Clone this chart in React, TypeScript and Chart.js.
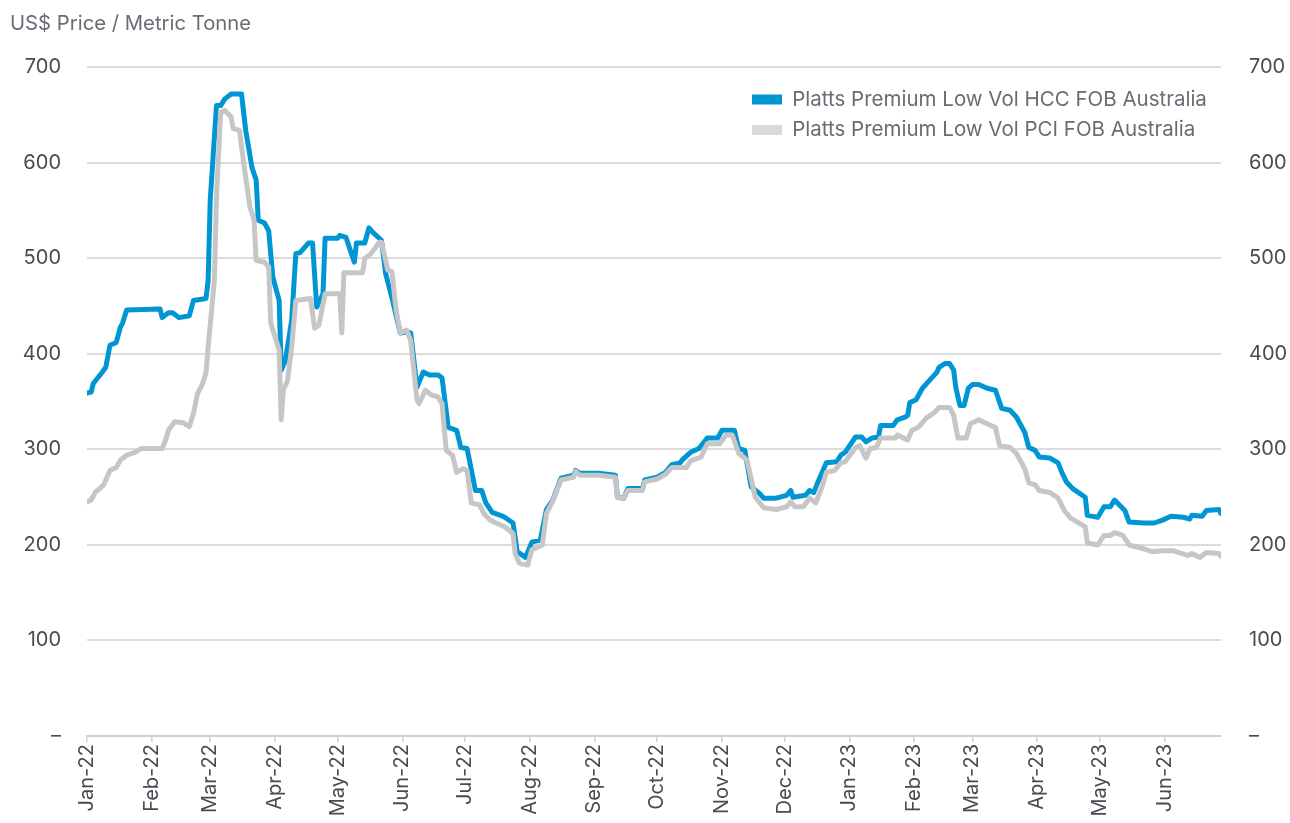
import React, { useEffect, useRef } from "react";
import { Chart, registerables } from "chart.js";

Chart.register(...registerables);

const titleText = "US$ Price / Metric Tonne";
const hccLabel = "Platts Premium Low Vol HCC FOB Australia";
const pciLabel = "Platts Premium Low Vol PCI FOB Australia";

const monthTicks = [
  "2022-01-01", "2022-02-01", "2022-03-01", "2022-04-01", "2022-05-01", "2022-06-01",
  "2022-07-01", "2022-08-01", "2022-09-01", "2022-10-01", "2022-11-01", "2022-12-01",
  "2023-01-01", "2023-02-01", "2023-03-01", "2023-04-01", "2023-05-01", "2023-06-01",
];
const monthLabels = [
  "Jan-22", "Feb-22", "Mar-22", "Apr-22", "May-22", "Jun-22",
  "Jul-22", "Aug-22", "Sep-22", "Oct-22", "Nov-22", "Dec-22",
  "Jan-23", "Feb-23", "Mar-23", "Apr-23", "May-23", "Jun-23",
];

const hccDates = [
  "2022-01-01", "2022-01-03", "2022-01-04", "2022-01-08", "2022-01-10", "2022-01-12", "2022-01-15", "2022-01-17", "2022-01-18", "2022-01-20",
  "2022-02-05", "2022-02-06", "2022-02-09", "2022-02-11", "2022-02-14", "2022-02-19", "2022-02-21", "2022-02-27", "2022-02-28",
  "2022-03-01", "2022-03-04", "2022-03-06", "2022-03-08", "2022-03-11", "2022-03-16", "2022-03-18", "2022-03-21", "2022-03-23", "2022-03-24", "2022-03-27", "2022-03-29", "2022-03-31",
  "2022-04-03", "2022-04-04", "2022-04-06", "2022-04-09", "2022-04-11", "2022-04-13", "2022-04-17", "2022-04-19", "2022-04-21", "2022-04-24", "2022-04-25",
  "2022-05-01", "2022-05-02", "2022-05-05", "2022-05-09", "2022-05-10", "2022-05-14", "2022-05-16", "2022-05-18", "2022-05-22", "2022-05-24", "2022-05-27", "2022-05-31",
  "2022-06-03", "2022-06-05", "2022-06-08", "2022-06-11", "2022-06-14", "2022-06-18", "2022-06-20", "2022-06-23", "2022-06-27", "2022-06-29",
  "2022-07-02", "2022-07-06", "2022-07-09", "2022-07-11", "2022-07-14", "2022-07-18", "2022-07-20", "2022-07-24", "2022-07-26", "2022-07-30",
  "2022-08-02", "2022-08-06", "2022-08-09", "2022-08-12", "2022-08-16", "2022-08-22", "2022-08-23", "2022-08-25",
  "2022-09-03", "2022-09-11", "2022-09-12", "2022-09-15", "2022-09-17", "2022-09-24", "2022-09-25",
  "2022-10-01", "2022-10-05", "2022-10-08", "2022-10-12", "2022-10-13", "2022-10-17", "2022-10-21", "2022-10-25", "2022-10-30",
  "2022-11-01", "2022-11-07", "2022-11-09", "2022-11-12", "2022-11-15", "2022-11-19", "2022-11-21", "2022-11-27",
  "2022-12-02", "2022-12-04", "2022-12-05", "2022-12-11", "2022-12-13", "2022-12-15", "2022-12-17", "2022-12-21", "2022-12-26", "2022-12-28", "2022-12-30",
  "2023-01-04", "2023-01-07", "2023-01-09", "2023-01-12", "2023-01-15", "2023-01-16", "2023-01-22", "2023-01-24", "2023-01-28", "2023-01-29", "2023-01-30",
  "2023-02-02", "2023-02-05", "2023-02-07", "2023-02-12", "2023-02-13", "2023-02-16", "2023-02-18", "2023-02-20", "2023-02-21", "2023-02-23", "2023-02-25", "2023-02-27",
  "2023-03-01", "2023-03-04", "2023-03-08", "2023-03-12", "2023-03-15", "2023-03-19", "2023-03-22", "2023-03-26", "2023-03-28", "2023-03-31",
  "2023-04-02", "2023-04-07", "2023-04-11", "2023-04-13", "2023-04-15", "2023-04-18", "2023-04-24", "2023-04-25", "2023-04-30",
  "2023-05-03", "2023-05-06", "2023-05-08", "2023-05-13", "2023-05-15", "2023-05-22", "2023-05-27", "2023-05-31",
  "2023-06-04", "2023-06-10", "2023-06-13", "2023-06-14", "2023-06-19", "2023-06-21", "2023-06-27", "2023-06-28",
];
const hccPrices = [
  359, 360, 369, 380, 386, 409, 412, 428, 432, 446,
  447, 438, 443, 443, 438, 440, 456, 458, 477,
  561, 660, 660, 667, 672, 672, 634, 595, 582, 540, 537, 529, 480,
  456, 383, 393, 435, 505, 506, 516, 516, 449, 463, 521,
  521, 524, 522, 496, 516, 516, 532, 527, 519, 484, 459, 422,
  423, 422, 365, 381, 378, 378, 375, 323, 320, 302,
  301, 257, 257, 244, 234, 231, 229, 223, 193, 187,
  203, 205, 237, 247, 270, 273, 278, 275,
  275, 273, 250, 249, 259, 259, 268,
  271, 276, 284, 286, 289, 297, 301, 312, 312,
  320, 320, 301, 299, 261, 254, 249, 249,
  252, 257, 250, 252, 257, 255, 266, 286, 287, 294, 297,
  313, 313, 308, 312, 313, 325, 325, 331, 334, 336, 349,
  352, 364, 369, 381, 386, 390, 390, 383, 365, 346, 346, 364,
  368, 368, 364, 362, 343, 341, 334, 318, 302, 299,
  292, 291, 286, 275, 266, 259, 250, 231, 229,
  240, 240, 247, 236, 224, 223, 223, 226,
  230, 229, 227, 231, 230, 236, 237, 233,
];

const pciDates = [
  "2022-01-01", "2022-01-03", "2022-01-05", "2022-01-09", "2022-01-12", "2022-01-15", "2022-01-17", "2022-01-20", "2022-01-24", "2022-01-27",
  "2022-02-06", "2022-02-08", "2022-02-09", "2022-02-12", "2022-02-16", "2022-02-19", "2022-02-21", "2022-02-23", "2022-02-25", "2022-02-27", "2022-02-28",
  "2022-03-03", "2022-03-04", "2022-03-06", "2022-03-08", "2022-03-11", "2022-03-12", "2022-03-15", "2022-03-17", "2022-03-20", "2022-03-22", "2022-03-23", "2022-03-27", "2022-03-29", "2022-03-30",
  "2022-04-01", "2022-04-03", "2022-04-04", "2022-04-05", "2022-04-07", "2022-04-09", "2022-04-11", "2022-04-18", "2022-04-20", "2022-04-22", "2022-04-25",
  "2022-05-02", "2022-05-03", "2022-05-04", "2022-05-13", "2022-05-14", "2022-05-17", "2022-05-21", "2022-05-22", "2022-05-25", "2022-05-27", "2022-05-29", "2022-05-31",
  "2022-06-03", "2022-06-05", "2022-06-08", "2022-06-09", "2022-06-12", "2022-06-15", "2022-06-18", "2022-06-20", "2022-06-22", "2022-06-25", "2022-06-27", "2022-06-30",
  "2022-07-02", "2022-07-04", "2022-07-08", "2022-07-10", "2022-07-13", "2022-07-18", "2022-07-20", "2022-07-24", "2022-07-25", "2022-07-27", "2022-07-31",
  "2022-08-02", "2022-08-07", "2022-08-09", "2022-08-12", "2022-08-16", "2022-08-22", "2022-08-23", "2022-08-25",
  "2022-09-03", "2022-09-11", "2022-09-12", "2022-09-15", "2022-09-17", "2022-09-24", "2022-09-25",
  "2022-10-01", "2022-10-05", "2022-10-08", "2022-10-15", "2022-10-17", "2022-10-22", "2022-10-25", "2022-10-31",
  "2022-11-03", "2022-11-06", "2022-11-09", "2022-11-13", "2022-11-17", "2022-11-21", "2022-11-27",
  "2022-12-02", "2022-12-04", "2022-12-06", "2022-12-10", "2022-12-13", "2022-12-16", "2022-12-19", "2022-12-21", "2022-12-25", "2022-12-28", "2022-12-30",
  "2023-01-04", "2023-01-06", "2023-01-09", "2023-01-11", "2023-01-14", "2023-01-16", "2023-01-23", "2023-01-24", "2023-01-29", "2023-01-31",
  "2023-02-03", "2023-02-07", "2023-02-11", "2023-02-13", "2023-02-18", "2023-02-20", "2023-02-22", "2023-02-26", "2023-02-28",
  "2023-03-04", "2023-03-08", "2023-03-12", "2023-03-14", "2023-03-19", "2023-03-22", "2023-03-26", "2023-03-28", "2023-03-31",
  "2023-04-02", "2023-04-07", "2023-04-11", "2023-04-14", "2023-04-17", "2023-04-24", "2023-04-25", "2023-04-30",
  "2023-05-03", "2023-05-06", "2023-05-08", "2023-05-12", "2023-05-15", "2023-05-22", "2023-05-26", "2023-05-31",
  "2023-06-05", "2023-06-12", "2023-06-14", "2023-06-18", "2023-06-21", "2023-06-27", "2023-06-28",
];
const pciPrices = [
  245, 247, 255, 263, 278, 281, 289, 294, 297, 301,
  301, 312, 320, 329, 328, 324, 338, 359, 367, 380, 407,
  477, 564, 653, 655, 648, 636, 634, 600, 554, 540, 498, 496, 491, 432,
  418, 404, 331, 362, 372, 407, 456, 458, 427, 430, 463,
  463, 422, 485, 485, 500, 505, 517, 517, 488, 486, 446, 422,
  425, 414, 352, 348, 362, 357, 355, 348, 299, 294, 276, 280,
  278, 244, 242, 233, 226, 221, 219, 212, 191, 181, 179,
  195, 200, 233, 246, 268, 271, 277, 273,
  273, 271, 250, 249, 257, 257, 266,
  269, 274, 281, 281, 288, 292, 306, 306,
  315, 315, 296, 289, 250, 239, 237,
  240, 245, 240, 240, 249, 244, 261, 276, 278, 286, 287,
  302, 304, 291, 301, 302, 312, 312, 315, 310, 320,
  323, 333, 339, 344, 344, 336, 312, 312, 327,
  331, 327, 323, 304, 302, 296, 280, 265, 263,
  257, 255, 249, 236, 228, 219, 202, 200,
  210, 210, 213, 210, 200, 196, 193, 194,
  194, 189, 191, 187, 192, 191, 188,
];

const START = Date.parse("2022-01-01");
const DAY_MS = 86400000;
const dayOf = (s: string) => (Date.parse(s) - START) / DAY_MS;

const FONT = "Inter, 'Open Sans', sans-serif";

const legendPlacer = {
  id: "legendPlacer",
  afterLayout(chart: any) {
    const lg = chart.legend;
    const ca = chart.chartArea;
    if (!lg || !ca) return;
    lg.left = ca.left + 655;
    lg.top = ca.top + 12;
  },
};

export default function App() {
  const ref = useRef<HTMLCanvasElement | null>(null);

  useEffect(() => {
    if (!ref.current) return;
    const hccData = hccDates.map((d, i) => ({ x: dayOf(d), y: hccPrices[i] }));
    const pciData = pciDates.map((d, i) => ({ x: dayOf(d), y: pciPrices[i] }));
    const tickDays = monthTicks.map(dayOf);
    const xMax = dayOf(hccDates[hccDates.length - 1]);

    const yTickCommon = {
      color: "#4a4a52",
      font: { family: FONT, size: 20 },
      stepSize: 100,
      callback: (v: any) => (Number(v) === 0 ? "–" : String(v)),
    };

    const chart = new Chart(ref.current, {
      type: "line",
      data: {
        datasets: [
          {
            label: hccLabel,
            data: hccData,
            borderColor: "#0096d3",
            backgroundColor: "#0096d3",
            borderWidth: 5,
            pointRadius: 0,
            tension: 0,
            borderJoinStyle: "round",
            borderCapStyle: "round",
            order: 2,
          },
          {
            label: pciLabel,
            data: pciData,
            borderColor: "#c6c6c6",
            backgroundColor: "#d9d9d9",
            borderWidth: 5,
            pointRadius: 0,
            tension: 0,
            borderJoinStyle: "round",
            borderCapStyle: "round",
            order: 1,
          },
        ],
      },
      options: {
        animation: false,
        responsive: false,
        maintainAspectRatio: false,
        layout: { padding: { left: 10, right: 0, top: 0, bottom: 0 } },
        plugins: {
          tooltip: { enabled: false },
          title: {
            display: true,
            text: titleText,
            align: "start",
            color: "#6b6b76",
            font: { family: FONT, size: 20.3, weight: "normal" },
            padding: { top: 12, bottom: 31 },
          },
          legend: {
            display: true,
            position: "chartArea",
            align: "start",
            labels: {
              boxWidth: 30,
              boxHeight: 10,
              padding: 10,
              color: "#6b6b76",
              font: { family: FONT, size: 20.5 },
              sort: (a: any, b: any) => a.datasetIndex - b.datasetIndex,
              generateLabels: (c: any) =>
                (Chart as any).defaults.plugins.legend.labels
                  .generateLabels(c)
                  .map((l: any) => ({ ...l, lineWidth: 0, strokeStyle: "rgba(0,0,0,0)" })),
            },
          },
        },
        scales: {
          x: {
            type: "linear",
            min: 0,
            max: xMax,
            afterFit: (s: any) => {
              s.height = 87;
            },
            afterBuildTicks: (s: any) => {
              s.ticks = tickDays.map((v) => ({ value: v }));
            },
            ticks: {
              autoSkip: false,
              minRotation: 90,
              maxRotation: 90,
              padding: 2,
              color: "#4a4a52",
              font: { family: FONT, size: 20 },
              callback: (_v: any, i: number) => monthLabels[i],
            },
            grid: {
              drawOnChartArea: false,
              drawTicks: true,
              tickLength: 6,
              color: "#d0d0d0",
              lineWidth: 1.5,
            },
            border: { display: true, color: "#d0d0d0", width: 2 },
          },
          y: {
            position: "left",
            min: 0,
            max: 700,
            afterFit: (s: any) => {
              s.width = 77;
            },
            ticks: { ...yTickCommon, padding: 26 },
            grid: { color: "#dcdcdc", lineWidth: 2, drawTicks: false },
            border: { display: false },
          },
          y2: {
            position: "right",
            min: 0,
            max: 700,
            afterFit: (s: any) => {
              s.width = 69;
            },
            ticks: { ...yTickCommon, padding: 28 },
            grid: { display: false, drawTicks: false },
            border: { display: false },
          },
        },
      },
      plugins: [legendPlacer],
    } as any);

    return () => chart.destroy();
  }, []);

  return (
    <div style={{ position: "fixed", left: 0, top: 0, width: 1290, height: 823, background: "#fff" }}>
      <canvas ref={ref} width={1290} height={823} style={{ display: "block" }} />
    </div>
  );
}
